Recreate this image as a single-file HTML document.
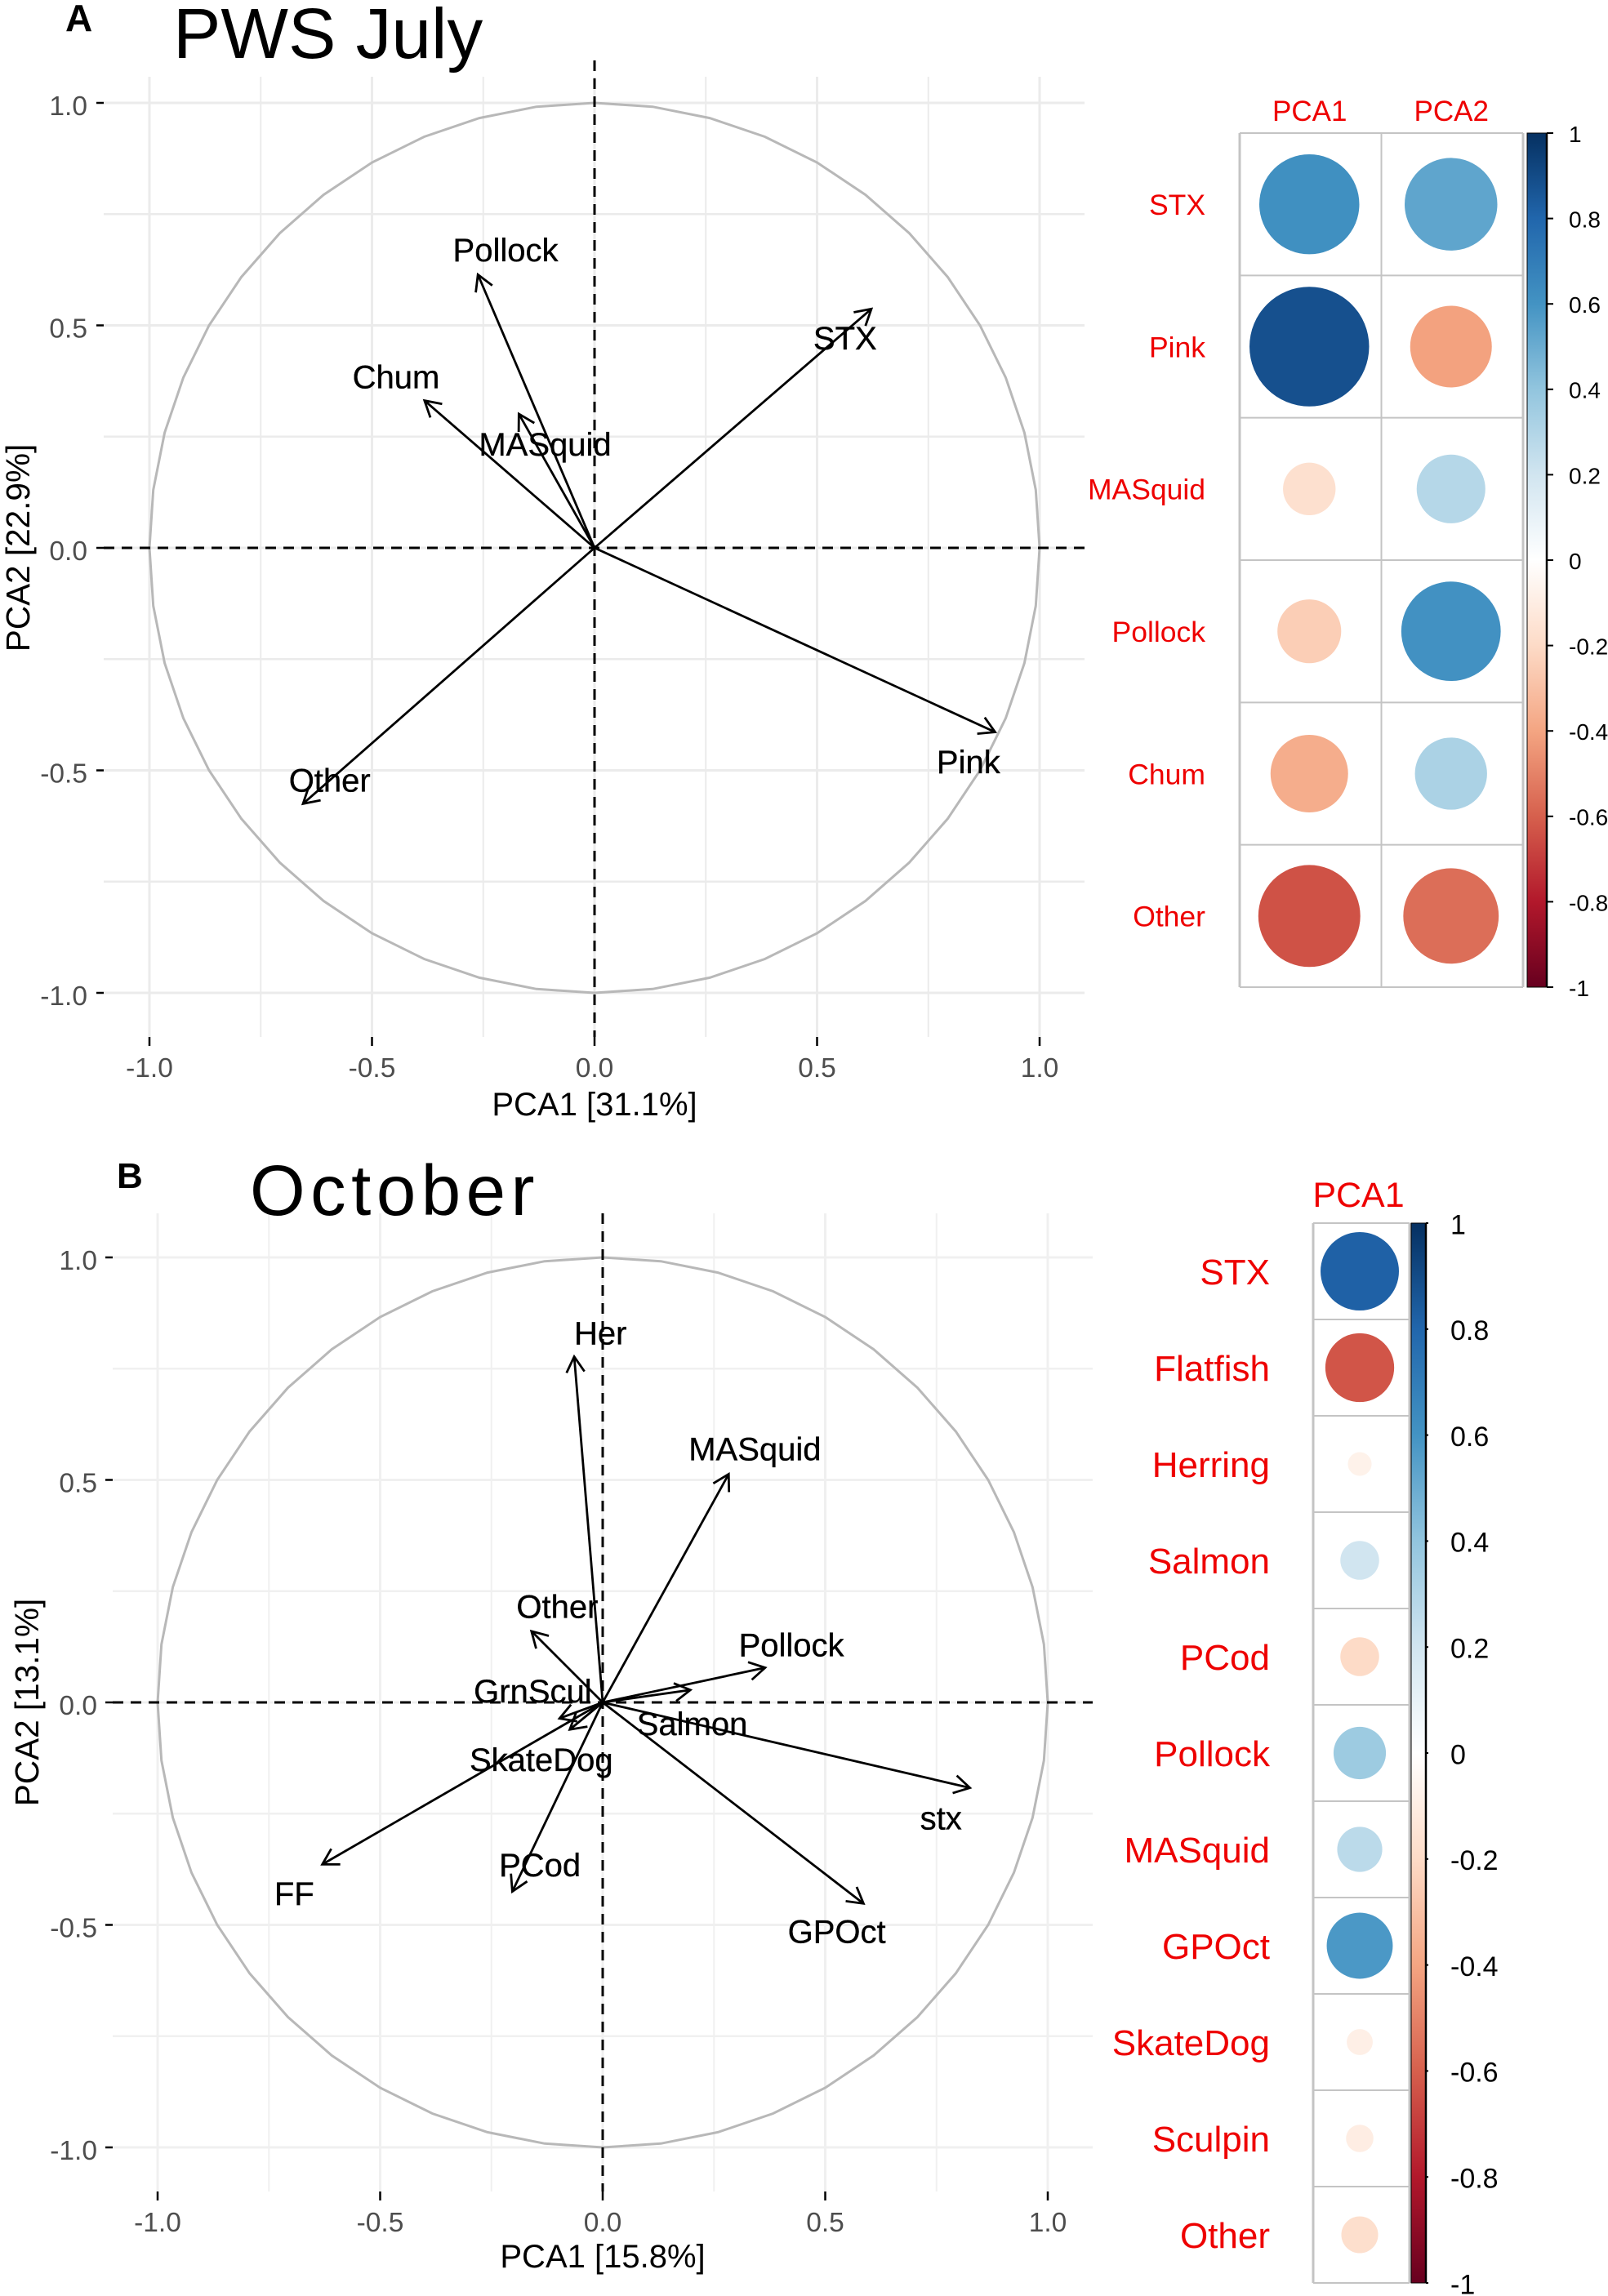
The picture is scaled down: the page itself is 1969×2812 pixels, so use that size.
<!DOCTYPE html>
<html lang="en">
<head>
<meta charset="utf-8">
<title>PCA biplots and loadings: PWS July and October</title>
<style>
html,body{margin:0;padding:0;background:#fff;}
#figure{display:block;width:1969px;height:2812px;font-family:"Liberation Sans",Arial,sans-serif;}
</style>
</head>
<body>
<svg id="figure" xmlns="http://www.w3.org/2000/svg" width="1969" height="2812" viewBox="0 0 1969 2812">
  <defs>
    <linearGradient id="rdbu" x1="0" y1="1" x2="0" y2="0"></linearGradient>
  </defs>
  <rect x="0" y="0" width="1969" height="2812" fill="#fff"/>
  <g id="panel-a"></g>
  <g id="panel-b"></g>
  <g id="corr-a"></g>
  <g id="corr-b"></g>
  <text x="80" y="38" font-size="46" font-weight="bold" fill="#000">A</text>
  <text x="212" y="71" font-size="87.5" fill="#000">PWS July</text>
  <text x="143" y="1455" font-size="44" font-weight="bold" fill="#000">B</text>
  <text x="306" y="1488" font-size="87" letter-spacing="6.5" fill="#000">October</text>
</svg>
<script>
// ---------- Panel A biplot data ----------
const aVariables = ['Pollock', 'Chum', 'MASquid', 'STX', 'Pink', 'Other'];
const aArrowX = [-0.262, -0.382, -0.170, 0.622, 0.900, -0.655];
const aArrowY = [0.614, 0.331, 0.301, 0.537, -0.414, -0.575];
const aLabelX = [-0.200, -0.446, -0.111, 0.563, 0.840, -0.595];
const aLabelY = [0.668, 0.383, 0.231, 0.470, -0.483, -0.524];

// ---------- Panel B biplot data ----------
const bVariables = ['Her', 'MASquid', 'Other', 'Pollock', 'GrnScul', 'Salmon', 'SkateDog', 'stx', 'FF', 'PCod', 'GPOct'];
const bArrowX = [-0.064, 0.283, -0.160, 0.365, -0.097, 0.197, -0.074, 0.825, -0.630, -0.203, 0.586];
const bArrowY = [0.777, 0.513, 0.160, 0.078, -0.036, 0.028, -0.061, -0.192, -0.364, -0.425, -0.452];
const bLabelX = [-0.005, 0.342, -0.102, 0.424, -0.157, 0.201, -0.138, 0.760, -0.693, -0.141, 0.526];
const bLabelY = [0.827, 0.566, 0.212, 0.126, 0.022, -0.051, -0.132, -0.263, -0.433, -0.369, -0.518];

// ---------- Axis ticks ----------
const majorTicks = [-1.0, -0.5, 0.0, 0.5, 1.0];
const minorTicks = [-0.75, -0.25, 0.25, 0.75];
const majorTickLabels = ['-1.0', '-0.5', '0.0', '0.5', '1.0'];

// ---------- Correlation plot data ----------
const aCorrRows = ['STX', 'Pink', 'MASquid', 'Pollock', 'Chum', 'Other'];
const aCorrCols = ['PCA1', 'PCA2'];
const aCorrPca1 = [0.615, 0.88, -0.17, -0.25, -0.37, -0.64];
const aCorrPca2 = [0.528, -0.41, 0.29, 0.608, 0.32, -0.56];

const bCorrRows = ['STX', 'Flatfish', 'Herring', 'Salmon', 'PCod', 'Pollock', 'MASquid', 'GPOct', 'SkateDog', 'Sculpin', 'Other'];
const bCorrCols = ['PCA1'];
const bCorrPca1 = [0.817, -0.63, -0.075, 0.2, -0.2, 0.365, 0.27, 0.58, -0.09, -0.10, -0.18];

const colorbarTicks = [1, 0.8, 0.6, 0.4, 0.2, 0, -0.2, -0.4, -0.6, -0.8, -1];
const colorbarTickLabels = ['1', '0.8', '0.6', '0.4', '0.2', '0', '-0.2', '-0.4', '-0.6', '-0.8', '-1'];
const rdbuColors = ['#67001F', '#B2182B', '#D6604D', '#F4A582', '#FDDBC7', '#FFFFFF', '#D1E5F0', '#92C5DE', '#4393C3', '#2166AC', '#053061'];

const NS = 'http://www.w3.org/2000/svg';

function make(parent, tag, attrs, content) {
  const node = document.createElementNS(NS, tag);
  for (const key in attrs) node.setAttribute(key, attrs[key]);
  if (content !== undefined) node.textContent = content;
  parent.appendChild(node);
  return node;
}

function slug(text) {
  return String(text).toLowerCase().replace(/[^a-z0-9]+/g, '-').replace(/^-|-$/g, '');
}

function hexToRgb(hex) {
  return [parseInt(hex.slice(1, 3), 16), parseInt(hex.slice(3, 5), 16), parseInt(hex.slice(5, 7), 16)];
}

function valueColor(value) {
  const t = (Math.max(-1, Math.min(1, value)) + 1) * 5;
  const i = Math.min(9, Math.floor(t));
  const f = t - i;
  const a = hexToRgb(rdbuColors[i]);
  const b = hexToRgb(rdbuColors[i + 1]);
  return 'rgb(' + a.map(function (c, k) { return Math.round(c + (b[k] - c) * f); }).join(',') + ')';
}

function drawBiplot(cfg) {
  const g = document.getElementById(cfg.id);
  const sx = function (v) { return cfg.cx + v * cfg.r; };
  const sy = function (v) { return cfg.cy - v * cfg.r; };

  // Minor gridlines
  minorTicks.forEach(function (t) {
    const gv = make(g, 'line', { x1: sx(t), x2: sx(t), y1: cfg.top, y2: cfg.bottom, stroke: cfg.gridColor, 'stroke-width': 2 });
    
    
    const gh = make(g, 'line', { x1: cfg.left, x2: cfg.right, y1: sy(t), y2: sy(t), stroke: cfg.gridColor, 'stroke-width': 2.5 });
    
    
  });

  // Major gridlines, ticks, tick labels
  majorTicks.forEach(function (t, i) {
    const gv = make(g, 'line', { x1: sx(t), x2: sx(t), y1: cfg.top, y2: cfg.bottom, stroke: cfg.gridColor, 'stroke-width': 3 });
    
    
    const gh = make(g, 'line', { x1: cfg.left, x2: cfg.right, y1: sy(t), y2: sy(t), stroke: cfg.gridColor, 'stroke-width': 3 });
    
    

    const tx = make(g, 'line', { x1: sx(t), x2: sx(t), y1: cfg.bottom, y2: cfg.bottom + 11, stroke: '#000', 'stroke-width': 2.5 });
    
    
    const ty = make(g, 'line', { x1: cfg.left - 9, x2: cfg.left, y1: sy(t), y2: sy(t), stroke: '#000', 'stroke-width': 2.5 });
    
    

    const lx = make(g, 'text', { x: sx(t), y: cfg.xTickBase, 'text-anchor': 'middle', 'font-size': 33.5, fill: '#4d4d4d' }, majorTickLabels[i]);
    
    
    const ly = make(g, 'text', { x: cfg.yTickRight, y: sy(t) + 15, 'text-anchor': 'end', 'font-size': 33.5, fill: '#4d4d4d' }, majorTickLabels[i]);
    
    
  });

  // Unit circle
  const circlePts = [];
  for (let k = 0; k < 48; k++) {
    const a = k / 48 * Math.PI * 2;
    circlePts.push(sx(Math.cos(a)).toFixed(1) + ',' + sy(Math.sin(a)).toFixed(1));
  }
  const circle = make(g, 'polygon', { points: circlePts.join(' '), fill: 'none', stroke: '#b8b8b8', 'stroke-width': 3 });
  
  

  // Zero lines
  const zeroV = make(g, 'line', { x1: sx(0), x2: sx(0), y1: cfg.dashTop, y2: cfg.bottom, stroke: '#000', 'stroke-width': 3, 'stroke-dasharray': '13 9' });
  
  
  const zeroH = make(g, 'line', { x1: cfg.left, x2: cfg.right, y1: sy(0), y2: sy(0), stroke: '#000', 'stroke-width': 3, 'stroke-dasharray': '13 9' });
  
  

  // Arrows
  cfg.names.forEach(function (name, i) {
    const tipX = sx(cfg.arrowX[i]);
    const tipY = sy(cfg.arrowY[i]);
    const ang = Math.atan2(tipY - sy(0), tipX - sx(0));
    const headLen = 22;
    const spread = Math.PI / 6;
    const b1x = tipX - headLen * Math.cos(ang - spread);
    const b1y = tipY - headLen * Math.sin(ang - spread);
    const b2x = tipX - headLen * Math.cos(ang + spread);
    const b2y = tipY - headLen * Math.sin(ang + spread);
    const shaft = make(g, 'line', { x1: sx(0), y1: sy(0), x2: tipX, y2: tipY, stroke: '#000', 'stroke-width': 2.8 });
    
    
    const head = make(g, 'polyline', { points: b1x + ',' + b1y + ' ' + tipX + ',' + tipY + ' ' + b2x + ',' + b2y, fill: 'none', stroke: '#000', 'stroke-width': 2.8 });
    
    
  });

  // Variable labels
  cfg.names.forEach(function (name, i) {
    const lab = make(g, 'text', { x: sx(cfg.labelX[i]), y: sy(cfg.labelY[i]) + cfg.labelDrop, 'text-anchor': 'middle', 'font-size': 40, fill: '#000', stroke: '#000', 'stroke-width': 0.35 }, name);
    
    
  });

  // Axis titles
  const xt = make(g, 'text', { x: sx(0), y: cfg.xTitleBase, 'text-anchor': 'middle', 'font-size': 40, fill: '#000' }, cfg.xTitle);
  
  
  const yt = make(g, 'text', { transform: 'translate(' + cfg.yTitleBase + ',' + sy(0) + ') rotate(-90)', 'text-anchor': 'middle', 'font-size': 40.5, fill: '#000' }, cfg.yTitle);
  
  
}

function drawCorrplot(cfg) {
  const g = document.getElementById(cfg.id);
  const nRows = cfg.rows.length;
  const nCols = cfg.cols.length;
  const cellW = cfg.cell;
  const cellH = (cfg.bottom - cfg.top) / nRows;
  const right = cfg.left + nCols * cellW;
  const maxR = cellW * 0.45;

  // Cell grid
  for (let r = 0; r <= nRows; r++) {
    const yy = cfg.top + r * cellH;
    const rowLine = make(g, 'line', { x1: cfg.left, x2: right, y1: yy, y2: yy, stroke: '#c4c4c4', 'stroke-width': 2 });
    
    
  }
  for (let c = 0; c <= nCols; c++) {
    const xx = cfg.left + c * cellW;
    const colLine = make(g, 'line', { x1: xx, x2: xx, y1: cfg.top, y2: cfg.bottom, stroke: '#c4c4c4', 'stroke-width': c === 1 && nCols > 1 ? 2 : 3 });
    
    
  }

  // Circles
  cfg.values.forEach(function (series, c) {
    series.forEach(function (v, r) {
      const dot = make(g, 'circle', {
        cx: cfg.left + (c + 0.5) * cellW + cfg.dotShift,
        cy: cfg.top + (r + 0.5) * cellH,
        r: maxR * Math.sqrt(Math.abs(v)),
        fill: valueColor(v)
      });
      
      
    });
  });

  // Row labels
  cfg.rows.forEach(function (name, r) {
    const t = make(g, 'text', { x: cfg.labelRight, y: cfg.top + (r + 0.5) * cellH + cfg.labelSize * 0.36, 'text-anchor': 'end', 'font-size': cfg.labelSize, fill: '#ee0000' }, name);
    
    
  });

  // Column labels
  cfg.cols.forEach(function (name, c) {
    const t = make(g, 'text', { x: cfg.left + (c + 0.5) * cellW + cfg.headShift, y: cfg.headBase, 'text-anchor': 'middle', 'font-size': cfg.headSize, fill: '#ee0000' }, name);
    
    
  });

  // Colour bar
  const bar = make(g, 'rect', { x: cfg.barLeft, y: cfg.top, width: cfg.barRight - cfg.barLeft, height: cfg.bottom - cfg.top, fill: 'url(#rdbu)', stroke: '#000', 'stroke-width': 1 });
  
  
  const barEdge = make(g, 'line', { x1: cfg.barRight, x2: cfg.barRight, y1: cfg.top, y2: cfg.bottom, stroke: '#000', 'stroke-width': 2.5 });
  
  

  colorbarTicks.forEach(function (t, i) {
    const yy = cfg.top + (1 - t) / 2 * (cfg.bottom - cfg.top);
    const tick = make(g, 'line', { x1: cfg.barRight, x2: cfg.barRight + cfg.tickLen, y1: yy, y2: yy, stroke: '#000', 'stroke-width': 2 });
    
    
    const lab = make(g, 'text', { x: cfg.barLabelX, y: yy + cfg.barLabelSize * 0.39, 'font-size': cfg.barLabelSize, fill: '#000' }, colorbarTickLabels[i]);
    
    
  });
}

// Gradient stops from the palette
const grad = document.getElementById('rdbu');
rdbuColors.forEach(function (col, i) {
  make(grad, 'stop', { offset: (i / (rdbuColors.length - 1)), 'stop-color': col });
});

drawBiplot({
  id: 'panel-a', cx: 728, cy: 671, r: 545,
  left: 127, right: 1328, top: 94, bottom: 1270, dashTop: 74,
  gridColor: '#ebebeb', xTickBase: 1319, yTickRight: 107, xTitleBase: 1366, yTitleBase: 36,
  labelDrop: 13,
  names: aVariables, arrowX: aArrowX, arrowY: aArrowY, labelX: aLabelX, labelY: aLabelY,
  xTitle: 'PCA1 [31.1%]', yTitle: 'PCA2 [22.9%]'
});

drawBiplot({
  id: 'panel-b', cx: 738, cy: 2085, r: 545,
  left: 138, right: 1338, top: 1486, bottom: 2684, dashTop: 1486,
  gridColor: '#f0f0f0', xTickBase: 2733, yTickRight: 119, xTitleBase: 2777, yTitleBase: 47,
  labelDrop: 12,
  names: bVariables, arrowX: bArrowX, arrowY: bArrowY, labelX: bLabelX, labelY: bLabelY,
  xTitle: 'PCA1 [15.8%]', yTitle: 'PCA2 [13.1%]'
});

drawCorrplot({
  id: 'corr-a', left: 1518, top: 163, bottom: 1209, cell: 173.5,
  rows: aCorrRows, cols: aCorrCols, values: [aCorrPca1, aCorrPca2],
  dotShift: -1.5, headShift: -1,
  labelRight: 1476, labelSize: 35.5, headBase: 148, headSize: 35,
  barLeft: 1870, barRight: 1894, tickLen: 8, barLabelX: 1921, barLabelSize: 28
});

drawCorrplot({
  id: 'corr-b', left: 1608, top: 1498, bottom: 2796, cell: 118,
  rows: bCorrRows, cols: bCorrCols, values: [bCorrPca1],
  dotShift: -2, headShift: -3.5,
  labelRight: 1555, labelSize: 44, headBase: 1478, headSize: 43,
  barLeft: 1728, barRight: 1746, tickLen: 3, barLabelX: 1776, barLabelSize: 34
});
</script>
</body>
</html>
